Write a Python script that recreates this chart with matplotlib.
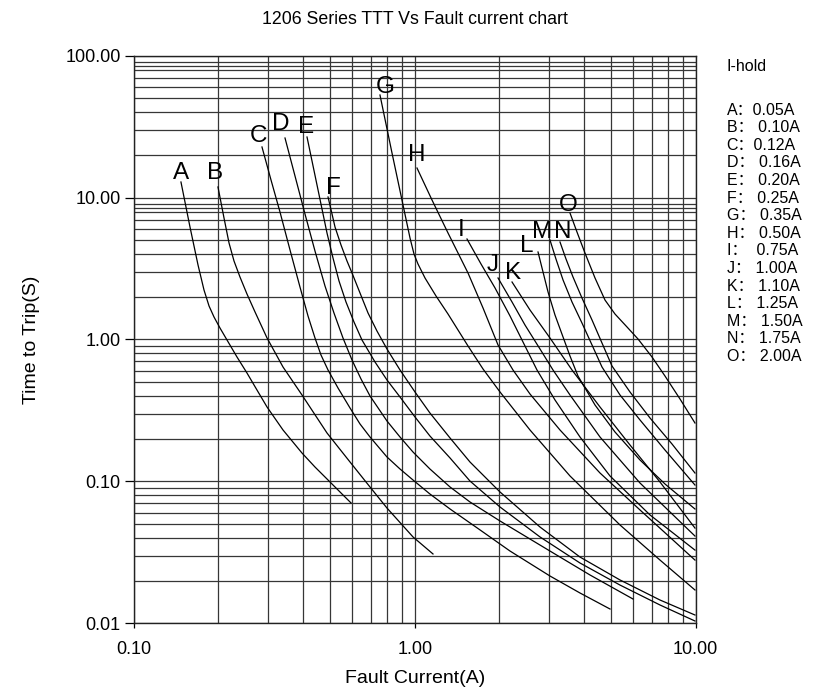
import matplotlib
matplotlib.use("Agg")
import matplotlib.pyplot as plt
from matplotlib.ticker import FixedLocator, NullFormatter, FuncFormatter

plt.rcParams['font.family'] = ['Liberation Sans', 'Noto Sans CJK SC', 'DejaVu Sans']

# time-to-trip curves: fault current (A) -> time (s)
a_i = [0.1473, 0.1586, 0.1694, 0.1779, 0.1854, 0.1931, 0.2028, 0.2148, 0.2331, 0.2530,
       0.2746, 0.2982, 0.3399, 0.3971, 0.4417, 0.4915, 0.5423, 0.5934]
a_t = [12.88, 6.21, 3.35, 2.233, 1.722, 1.441, 1.205, 0.992, 0.753, 0.5807,
       0.4407, 0.3344, 0.2303, 0.1585, 0.1263, 0.1023, 0.0842, 0.0705]
b_i = [0.1995, 0.2096, 0.2184, 0.2275, 0.2389, 0.2530, 0.2703, 0.2982, 0.3399, 0.3971,
       0.4874, 0.5886, 0.6934, 0.7968, 0.9862, 1.1618]
b_t = [11.88, 7.18, 4.787, 3.574, 2.757, 2.092, 1.562, 1.025, 0.640, 0.4064,
       0.2194, 0.1370, 0.0913, 0.0649, 0.0406, 0.0308]
c_i = [0.2861, 0.3081, 0.3316, 0.3600, 0.3906, 0.4172, 0.4417, 0.4640, 0.4915, 0.5334,
       0.5886, 0.6388, 0.6934, 0.7968, 0.8866, 0.9862, 1.133, 1.336, 1.708, 2.184,
       3.030, 3.875, 4.955]
c_t = [22.74, 13.30, 7.914, 4.273, 2.344, 1.464, 1.025, 0.7776, 0.6097, 0.4553,
       0.3291, 0.2539, 0.2055, 0.1486, 0.1223, 0.1023, 0.0815, 0.0639, 0.0455, 0.0323,
       0.02154, 0.01635, 0.01261]
d_i = [0.3455, 0.3750, 0.4070, 0.4417, 0.4795, 0.5161, 0.5556, 0.5983, 0.6441, 0.6934,
       0.7968, 0.8866, 0.9862, 1.133, 1.336, 1.573, 2.012, 3.030, 4.206, 5.983]
d_t = [26.30, 14.20, 7.661, 4.205, 2.382, 1.537, 1.025, 0.7168, 0.5267, 0.3997,
       0.2665, 0.2055, 0.1611, 0.1223, 0.0913, 0.0716, 0.0526, 0.0323, 0.0219, 0.01483]
e_i = [0.4138, 0.4491, 0.4874, 0.5120, 0.5378, 0.5695, 0.6081, 0.6492, 0.7224, 0.7968,
       0.8866, 1.0025, 1.133, 1.336, 1.573, 2.012, 2.792, 3.875, 5.378, 7.464, 9.94]
e_t = [26.73, 12.27, 5.63, 3.752, 2.585, 1.838, 1.328, 0.992, 0.694, 0.5184,
       0.3934, 0.2844, 0.2089, 0.1462, 0.1006, 0.0660, 0.0406, 0.0266, 0.0186, 0.01346, 0.01038]
f_i = [0.4915, 0.5079, 0.5205, 0.5467, 0.5742, 0.5983, 0.6388, 0.6822, 0.7340, 0.7968,
       0.8866, 1.0025, 1.133, 1.336, 1.573, 2.012, 2.792, 3.875, 5.378, 7.464, 9.94]
f_t = [10.10, 7.661, 6.205, 4.634, 3.574, 2.942, 2.127, 1.537, 1.148, 0.857,
       0.6097, 0.4266, 0.3034, 0.2022, 0.1370, 0.0842, 0.0477, 0.0293, 0.0202, 0.01459, 0.01144]
g_i = [0.7524, 0.8303, 0.9087, 0.9623, 0.9943, 1.0273, 1.0881, 1.1908, 1.3139, 1.5478,
       1.7505, 2.012, 2.572, 3.570, 5.378, 7.464, 9.94]
g_t = [52.84, 20.62, 8.869, 5.191, 4.004, 3.405, 2.713, 2.026, 1.512, 0.900,
       0.6196, 0.4266, 0.2303, 0.1092, 0.0493, 0.0279, 0.01717]
h_i = [1.0190, 1.1523, 1.3139, 1.5478, 1.7505, 1.9794, 2.2377, 2.572, 3.289, 4.565, 6.336, 9.94]
h_t = [16.16, 9.618, 5.63, 2.942, 1.667, 0.9146, 0.6097, 0.4130, 0.2303, 0.1146, 0.0629, 0.0279]
i_i = [1.535, 1.7218, 1.9316, 2.184, 2.429, 2.724, 3.157, 3.875, 4.955, 6.877, 9.94]
i_t = [5.107, 3.405, 2.307, 1.464, 0.960, 0.6097, 0.3748, 0.2055, 0.1092, 0.0580, 0.0328]
j_i = [1.9794, 2.220, 2.469, 2.792, 3.106, 3.570, 4.565, 6.336, 9.94]
j_t = [2.713, 1.838, 1.265, 0.857, 0.6097, 0.4064, 0.2055, 0.0974, 0.0412]
k_i = [2.220, 2.572, 3.030, 3.629, 4.565, 5.837, 7.464, 9.94]
k_t = [2.542, 1.614, 1.025, 0.6097, 0.3344, 0.1805, 0.0990, 0.0469]
l_i = [2.747, 2.862, 2.982, 3.157, 3.372, 3.570, 3.811, 4.382, 5.162, 6.336, 7.775, 9.94]
l_t = [4.137, 2.990, 2.161, 1.488, 1.041, 0.765, 0.553, 0.3455, 0.2229, 0.1415, 0.0959, 0.0639]
m_i = [3.030, 3.182, 3.372, 3.629, 3.938, 4.276, 4.640, 5.378, 6.336, 7.775, 9.94]
m_t = [5.025, 3.692, 2.627, 1.838, 1.307, 0.9146, 0.640, 0.4064, 0.2709, 0.1664, 0.0943]
n_i = [3.289, 3.455, 3.659, 3.938, 4.276, 4.640, 5.036, 5.837, 6.877, 8.235, 9.94]
n_t = [4.865, 3.692, 2.757, 1.961, 1.372, 0.9447, 0.6505, 0.4266, 0.2798, 0.1835, 0.1146]
o_i = [3.570, 3.780, 4.036, 4.382, 4.755, 5.162, 5.696, 6.234, 6.990, 7.775, 8.793, 9.94]
o_t = [7.788, 5.723, 4.070, 2.713, 1.898, 1.512, 1.225, 1.008, 0.753, 0.553, 0.3808, 0.2580]

curve_names = list("ABCDEFGHIJKLMNO")
hold_values = ["0.05A", "0.10A", "0.12A", "0.16A", "0.20A", "0.25A", "0.35A", "0.50A",
               "0.75A", "1.00A", "1.10A", "1.25A", "1.50A", "1.75A", "2.00A"]
hold_gaps = ["", " ", "", " ", " ", " ", " ", " ", "  ", " ", " ", " ", " ", " ", " "]

curves = [(a_i, a_t), (b_i, b_t), (c_i, c_t), (d_i, d_t), (e_i, e_t), (f_i, f_t),
          (g_i, g_t), (h_i, h_t), (i_i, i_t), (j_i, j_t), (k_i, k_t), (l_i, l_t),
          (m_i, m_t), (n_i, n_t), (o_i, o_t)]

# letter placement relative to the first point of each curve, in pixels
label_dx = [0, -3, -3, -4.5, -1, 5, 5, 0, -6, -5, 1, -11, -8, 3, -2]
label_dy = [3, 8, 4.5, 8.4, 3.7, 3.4, 2.5, 6.6, 2.6, 7, 3.4, 0, 1.7, 4.4, 2.2]

W, H = 818, 693
fig = plt.figure(figsize=(W / 100, H / 100), dpi=100)
ax = fig.add_axes([133.7 / W, 1 - 623.3 / H, 562 / W, 567.6 / H])
ax.set_xscale('log')
ax.set_yscale('log')
ax.set_xlim(0.1, 10)
ax.set_ylim(0.01, 100)

ax.xaxis.set_major_locator(FixedLocator([0.1, 1, 10]))
ax.xaxis.set_minor_locator(FixedLocator([m * d for d in (0.1, 1) for m in range(2, 10)]))
ax.yaxis.set_major_locator(FixedLocator([0.01, 0.1, 1, 10, 100]))
y_minor = [m * d for d in (0.01, 0.1) for m in range(2, 10)]
y_minor += [m * d for d in (1, 10) for m in (2, 3, 4, 5, 6, 7, 7.9, 8.5, 9.05)]
ax.yaxis.set_minor_locator(FixedLocator(y_minor))
fmt = FuncFormatter(lambda v, p: "%.2f" % v)
ax.xaxis.set_major_formatter(fmt)
ax.yaxis.set_major_formatter(fmt)
ax.xaxis.set_minor_formatter(NullFormatter())
ax.yaxis.set_minor_formatter(NullFormatter())

ax.grid(True, which='both', color='#363636', lw=0.9)
ax.tick_params(which='minor', length=0)
ax.tick_params(axis='y', which='major', length=6.5, width=0.9, pad=3, labelsize=13)
ax.tick_params(axis='x', which='major', length=3.6, width=0.9, pad=9, labelsize=13)
for s in ax.spines.values():
    s.set_linewidth(1.0)
    s.set_color('#222222')

for (xs, ys), name, dx, dy in zip(curves, curve_names, label_dx, label_dy):
    ax.plot(xs, ys, color='black', lw=0.9)
    ax.annotate(name, (xs[0], ys[0]), xytext=(dx * 0.72, dy * 0.72),
                textcoords='offset points', ha='center', va='baseline', fontsize=17.5)

ax.set_xlabel("Fault Current(A)", fontsize=14, labelpad=8.5)
ax.set_ylabel("Time to Trip(S)", fontsize=14, labelpad=18)
fig.text(414.7 / W, 1 - 20 / H, "1206 Series TTT Vs Fault current chart",
         ha='center', va='center', fontsize=12.8)

fig.text(726.7 / W, 1 - 71 / H, "I-hold", ha='left', va='baseline', fontsize=11.5)
for k, (name, val, gap) in enumerate(zip(curve_names, hold_values, hold_gaps)):
    fig.text(726.7 / W, 1 - (114.5 + 17.6 * k) / H, name + "\uff1a" + gap + val,
             ha='left', va='baseline', fontsize=11.5)

fig.savefig("out.png", dpi=100)
